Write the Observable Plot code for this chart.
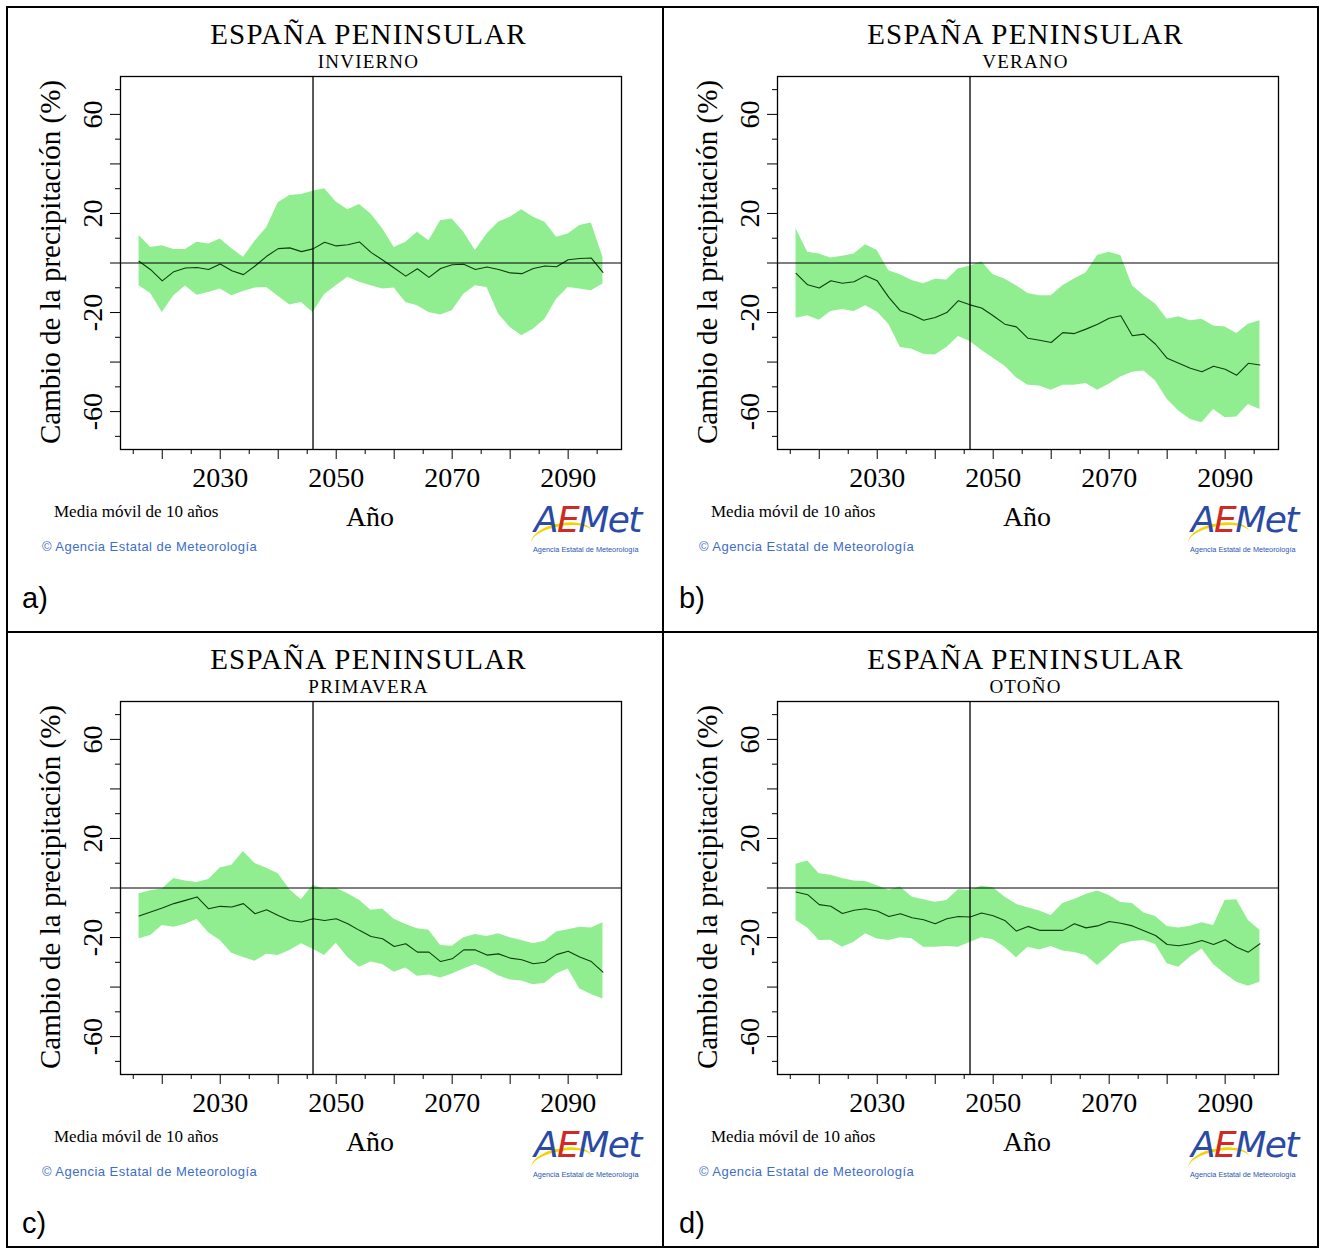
<!DOCTYPE html>
<html><head><meta charset="utf-8">
<script src="https://cdn.jsdelivr.net/npm/d3@7"></script>
<script src="https://cdn.jsdelivr.net/npm/@observablehq/plot@0.6"></script>
<style>
html,body{margin:0;padding:0;background:#fff}
body{width:1320px;height:1249px;position:relative;overflow:hidden;font-family:"Liberation Serif","Times New Roman",serif;color:#000}
.box{position:absolute;left:6px;top:6px;width:1313px;height:1242px;border:2px solid #000;box-sizing:border-box}
.vline{position:absolute;left:662px;top:6px;width:2px;height:1242px;background:#000}
.hline{position:absolute;left:6px;top:631px;width:1313px;height:2px;background:#000}
.panel{position:absolute;width:657px;height:625px}
.panel svg{position:absolute;left:0;top:0}
.t{position:absolute;white-space:nowrap;line-height:1}
.title{left:118px;width:501px;text-align:center;top:20px;font-size:29px;line-height:28px;letter-spacing:1.2px}
.sub{left:118px;width:501px;text-align:center;top:53px;font-size:19px;line-height:17px;letter-spacing:1.2px}
.ylab{left:50px;top:262px;font-size:29px;transform:translate(-50%,-50%) rotate(-90deg)}
.media{left:54px;top:503px;font-size:17px}
.ano{left:370px;top:503px;font-size:28px;transform:translateX(-50%)}
.copy{left:42px;top:540px;font-family:"Liberation Sans",Arial,sans-serif;font-size:13px;color:#3d6ec9;letter-spacing:0.45px}
.letter{left:22px;top:584px;font-family:"Liberation Sans",Arial,sans-serif;font-size:29px}
.logo{left:533px;top:502px;width:115px;height:60px}
.logo .w{position:absolute;left:1px;top:0;font-family:"DejaVu Sans",sans-serif;font-style:italic;font-size:36px;line-height:1;letter-spacing:-1.6px}
.logo .swoosh{position:absolute;left:-2px;top:21px;width:62px;height:26px;border-top:3px solid #f3d400;border-radius:50%;transform:rotate(-10deg)}
.logo .small{position:absolute;left:0;top:44px;font-family:"Liberation Sans",sans-serif;font-size:7.3px;color:#2b55b3;white-space:nowrap}
</style>
</head><body>
<div class="box"></div><div class="vline"></div><div class="hline"></div>
<script>
// ---- data ----
const years = [2016,2018,2020,2022,2024,2026,2028,2030,2032,2034,2036,2038,2040,2042,2044,2046,2048,2050,2052,2054,2056,2058,2060,2062,2064,2066,2068,2070,2072,2074,2076,2078,2080,2082,2084,2086,2088,2090,2092,2094,2096];

const invHi = [11.1,6.3,7.0,5.5,5.5,8.4,7.7,9.7,5.8,2.3,8.8,14.2,24.3,27.3,27.7,29,30,24.6,21.5,23.6,19.8,13.8,6.3,8.4,12.4,9,17.1,17.8,12.4,5,11.7,16.5,18.5,21.5,18.5,16.5,10.4,11.7,15.1,16.1,2.3];
const invLo = [-9.2,-12.3,-20,-13.2,-9.3,-13,-11.9,-10.5,-13.2,-11.5,-10.1,-9.9,-13.4,-17,-15.9,-20,-12.7,-9.2,-5.8,-7.8,-9.2,-10.5,-10.1,-15.9,-17.3,-20,-21,-19.3,-12.6,-9.2,-9.9,-20.6,-26,-29.4,-26.7,-22.7,-14.6,-9.9,-10.5,-11.2,-8.5];
const invMean = [0.7,-2.7,-7.2,-3.5,-2,-1.8,-2.6,-0.4,-3.1,-4.7,-1.2,2.7,5.8,6.1,4.6,5.7,8.4,6.9,7.4,8.5,4.3,1.2,-2,-5.3,-2.3,-5.8,-2.2,-0.7,-0.5,-2.6,-1.6,-2.6,-4,-4.3,-2.2,-1.2,-1.5,1.3,1.8,2,-3.8];

const verHi = [13.8,4.3,3.6,2,2.7,3.6,7.4,5,-3.1,-4.7,-7.1,-8.4,-6.6,-6.9,-2.3,-1.3,0.5,-4.7,-6.5,-9.2,-12.3,-13.2,-13.2,-9.2,-6.5,-4,3,4.3,3,-9.2,-13.2,-16.6,-22.7,-21.7,-23.3,-22.7,-25.4,-25.8,-28.5,-24.7,-23.3];
const verLo = [-22.3,-21.3,-23.1,-19.6,-18.8,-19.6,-17.3,-19.8,-24.7,-34.1,-34.8,-36.8,-37.1,-34.1,-29.7,-31.7,-35.2,-38.5,-41.6,-46.3,-49.4,-49.7,-51.4,-49.4,-49.4,-48.7,-51.4,-49,-46,-44.1,-43.6,-47.6,-55,-59.8,-63.2,-64.5,-59.2,-62.5,-62.2,-57.1,-59.1];
const verMean = [-4.2,-8.8,-10.1,-7.2,-8.2,-7.6,-5.1,-7.2,-13.9,-19.3,-20.9,-23.1,-22,-20,-15.2,-16.9,-18.2,-21.3,-24.7,-25.8,-30.4,-31.2,-32.1,-28.1,-28.5,-26.7,-24.7,-22.3,-21.3,-29.4,-28.7,-32.8,-38.5,-40.5,-42.5,-43.9,-41.7,-42.9,-45.3,-40.5,-41.2];

const priHi = [-2.3,-1.1,-0.4,3.8,2.8,2.2,3.4,8.1,9.2,14.7,9.9,8,5.8,-0.7,-4.7,1.1,-0.5,-0.1,-2.3,-4.9,-9,-8.5,-12.6,-14.7,-16.5,-17.1,-23.2,-23.5,-20.1,-18.8,-19.6,-18.5,-20.1,-21.2,-22.5,-21.5,-17.8,-16.9,-15.8,-16.2,-14];
const priLo = [-20.5,-19.2,-15.1,-15.8,-14.6,-12.7,-18.1,-21.2,-26.3,-28.1,-29.6,-26.7,-27.3,-25.2,-22.5,-24.7,-27.3,-22.3,-28.1,-32,-29.9,-30.9,-34,-32.3,-35.6,-35.1,-36.3,-34.7,-32.7,-30.9,-32.8,-35.4,-37.1,-37.5,-39.1,-38.5,-34.7,-32.7,-40.8,-43,-44.8];
const priMean = [-11.3,-9.7,-8.1,-6.3,-5,-3.6,-8.4,-7.4,-7.7,-6.3,-10.4,-8.8,-11.1,-13.1,-13.7,-12.4,-13.1,-12.4,-14.4,-17.1,-19.6,-20.5,-23.6,-22.5,-25.9,-25.9,-29.7,-28.6,-25,-25,-27.1,-26.6,-28.3,-29,-30.6,-30,-26.9,-25.5,-27.9,-29.7,-34];

const otoHi = [9.6,10.9,5.8,5.1,3.8,2.8,2.6,0.9,-0.9,0.4,-3.6,-4.7,-5.8,-5,-0.7,-1,0.7,0.1,-3.6,-6.6,-8,-9.3,-11.1,-6.3,-4.6,-2.6,-1.2,-3,-5.9,-6.3,-10.1,-11.5,-15.5,-16.2,-15.4,-14,-15.1,-5,-4.7,-13.1,-17.1];
const otoLo = [-13.1,-16.1,-21.2,-21.1,-23.9,-21.9,-18.5,-20.6,-21.2,-20.1,-20.5,-23.9,-23.9,-23.6,-23.9,-22,-20.1,-20.9,-23.9,-28.2,-23.9,-25,-23.6,-25.4,-26,-27.3,-31.3,-27.3,-22.8,-21.6,-21.2,-22.8,-30.6,-32,-27.9,-24.6,-30.9,-34.7,-38.1,-39.7,-38.1];
const otoMean = [-1.6,-2.7,-6.7,-7.4,-10.3,-9,-8.4,-9.3,-11.5,-10.4,-12,-12.8,-14.4,-12.4,-11.5,-11.7,-10.1,-11.2,-13.1,-17.4,-15.5,-17.1,-17.1,-17.1,-14.4,-16.1,-15.3,-13.5,-14.2,-15.3,-17.3,-19.2,-22.8,-23.3,-22.5,-21.2,-22.8,-20.9,-23.9,-25.9,-22.5];

const seasons = ["INVIERNO","VERANO","PRIMAVERA","OTOÑO"];
const panelLetters = ["a)","b)","c)","d)"];
const title = "ESPAÑA PENINSULAR";
const yTitle = "Cambio de la precipitación (%)";
const xTitle = "Año";
const note = "Media móvil de 10 años";
const credit = "© Agencia Estatal de Meteorología";
const xMajor = [2020,2030,2040,2050,2060,2070,2080,2090];
const xMinor = [2015,2025,2035,2045,2055,2065,2075,2085,2095];
const xLabels = [2030,2050,2070,2090];
const yMajor = [-60,-40,-20,0,20,40,60];
const yMinor = [-70,-50,-30,-10,10,30,50,70];
const yLabels = [-60,-20,20,60];
const refYear = [2046];
const series = [[invHi,invLo,invMean],[verHi,verLo,verMean],[priHi,priLo,priMean],[otoHi,otoLo,otoMean]];

// ---- layout ----
const offsets = [[0,0],[657,0],[0,625],[657,625]];

function chart(hi, lo, mean) {
  const data = years.map((y, i) => ({year: y, hi: hi[i], lo: lo[i], mean: mean[i]}));
  return Plot.plot({
    width: 656, height: 500,
    marginLeft: 120, marginRight: 35, marginTop: 76, marginBottom: 51,
    x: {domain: [2012.8, 2099.2]},
    y: {domain: [-75.3, 75.3]},
    style: {fontFamily: "'Liberation Serif', 'Times New Roman', serif", fontSize: "28px", color: "#000", background: "transparent", overflow: "visible"},
    marks: [
      Plot.areaY(data, {x: "year", y1: "lo", y2: "hi", fill: "#90ee90"}),
      Plot.lineY(data, {x: "year", y: "mean", stroke: "#0c3f0c", strokeWidth: 1.1}),
      Plot.ruleY([0], {stroke: "#000", strokeWidth: 1.2}),
      Plot.ruleX(refYear, {stroke: "#000", strokeWidth: 1.3}),
      Plot.frame({stroke: "#000", strokeWidth: 1.3}),
      Plot.axisX({ticks: xMajor, tickSize: 10, tickPadding: 8, tickFormat: d => xLabels.includes(d) ? String(d) : "", label: null}),
      Plot.axisX({ticks: xMinor, tickSize: 5, tickFormat: () => "", label: null}),
      Plot.axisY({ticks: yMajor, tickSize: 10, tickRotate: -90, tickPadding: 9, tickFormat: d => yLabels.includes(d) ? String(d) : "", label: null}),
      Plot.axisY({ticks: yMinor, tickSize: 5, tickFormat: () => "", label: null})
    ]
  });
}

function addText(parent, cls, txt) {
  const d = document.createElement("div");
  d.className = "t " + cls;
  d.textContent = txt;
  parent.appendChild(d);
  return d;
}

series.forEach(([hi, lo, mean], k) => {
  const [ox, oy] = offsets[k];
  const p = document.createElement("div");
  p.className = "panel";
  p.style.left = ox + "px";
  p.style.top = oy + "px";
  p.appendChild(chart(hi, lo, mean));
  addText(p, "title", title);
  addText(p, "sub", seasons[k]);
  addText(p, "ylab", yTitle);
  addText(p, "media", note);
  addText(p, "ano", xTitle);
  addText(p, "copy", credit);
  addText(p, "letter", panelLetters[k]);
  // logo
  const logo = document.createElement("div");
  logo.className = "t logo";
  logo.innerHTML = '<div class="swoosh"></div><div class="w"><span style="color:#2a4aa6">A</span><span style="color:#d02a24">E</span><span style="color:#2a4aa6">Met</span></div><div class="small">Agencia Estatal de Meteorología</div>';
  p.appendChild(logo);
  document.body.appendChild(p);
});
</script>
</body></html>
